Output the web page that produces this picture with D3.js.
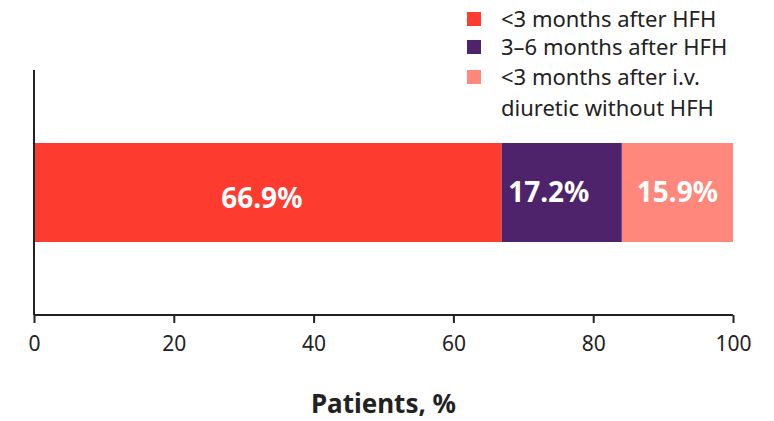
<!DOCTYPE html>
<html>
<head>
<meta charset="utf-8">
<script src="https://cdn.jsdelivr.net/npm/d3@7"></script>
<style>
  html, body { margin: 0; padding: 0; background: #fff; }
  svg { display: block; font-family: "Noto Sans", "Open Sans", sans-serif; }
</style>
</head>
<body>
<svg id="chart" width="774" height="421"></svg>
<script>
// Timing of worsening HF events, share of patients
const categories = ["<3 months after HFH", "3–6 months after HFH", "<3 months after i.v. diuretic without HFH"];
const legendLines = [["<3 months after HFH"], ["3–6 months after HFH"], ["<3 months after i.v.", "diuretic without HFH"]];
const values = [66.9, 17.2, 15.9];
const colors = ["#fd3b2f", "#4e236b", "#ff877c"];
const xTicks = [0, 20, 40, 60, 80, 100];
const axisTitle = "Patients, %";

const svg = d3.select("#chart");
const margin = { left: 34, right: 41, top: 70, bottom: 106 };
const W = 774, H = 421;
const fontFam = "'Noto Sans', 'Open Sans', sans-serif";

const x = d3.scaleLinear().domain([0, 100]).range([margin.left, W - margin.right]);

// stacked segments
let acc = 0;
const segs = values.map((v, i) => { const s = { i, v, x0: acc, x1: acc + v }; acc += v; return s; });

svg.append("g").selectAll("rect").data(segs).join("rect")
  .attr("x", d => x(d.x0))
  .attr("width", d => x(d.x1) - x(d.x0))
  .attr("y", 143)
  .attr("height", 99)
  .attr("fill", d => colors[d.i]);

const labelDx = [-6, -13, 0];
const labelY = [198, 192, 192];
svg.append("g").selectAll("text").data(segs).join("text")
  .attr("x", d => (x(d.x0) + x(d.x1)) / 2 + labelDx[d.i])
  .attr("y", d => labelY[d.i])
  .attr("dy", "0.36em")
  .attr("text-anchor", "middle")
  .attr("fill", "#fff")
  .attr("font-weight", 700)
  .attr("font-size", 28)
  .text(d => d.v.toFixed(1) + "%");

// axes
const xAxis = svg.append("g")
  .attr("transform", `translate(0,${H - margin.bottom})`)
  .call(d3.axisBottom(x).tickValues(xTicks).tickSize(8).tickPadding(13));
xAxis.select(".domain").attr("stroke", "#222").attr("stroke-width", 2).attr("d", `M${x(0)},0H${x(100)}`);
xAxis.selectAll(".tick line").attr("stroke", "#222").attr("stroke-width", 2);
xAxis.selectAll(".tick text").attr("fill", "#222").attr("font-size", 21).attr("font-family", fontFam);

svg.append("line")
  .attr("x1", x(0)).attr("x2", x(0))
  .attr("y1", margin.top).attr("y2", H - margin.bottom)
  .attr("stroke", "#222").attr("stroke-width", 2);

svg.append("text")
  .attr("x", (x(0) + x(100)) / 2)
  .attr("y", 413)
  .attr("text-anchor", "middle")
  .attr("font-weight", 700)
  .attr("font-size", 26)
  .attr("fill", "#222")
  .text(axisTitle);

// legend
const legendY = [19, 47, 77];
const lg = svg.append("g");
categories.forEach((c, i) => {
  lg.append("rect").attr("x", 467).attr("y", legendY[i] - 7).attr("width", 14).attr("height", 14).attr("fill", colors[i]);
  legendLines[i].forEach((t, j) => {
    lg.append("text")
      .attr("x", 501)
      .attr("y", legendY[i] + j * 31)
      .attr("dy", "0.36em")
      .attr("font-size", 22)
      .attr("fill", "#222")
      .text(t);
  });
});
</script>
</body>
</html>
